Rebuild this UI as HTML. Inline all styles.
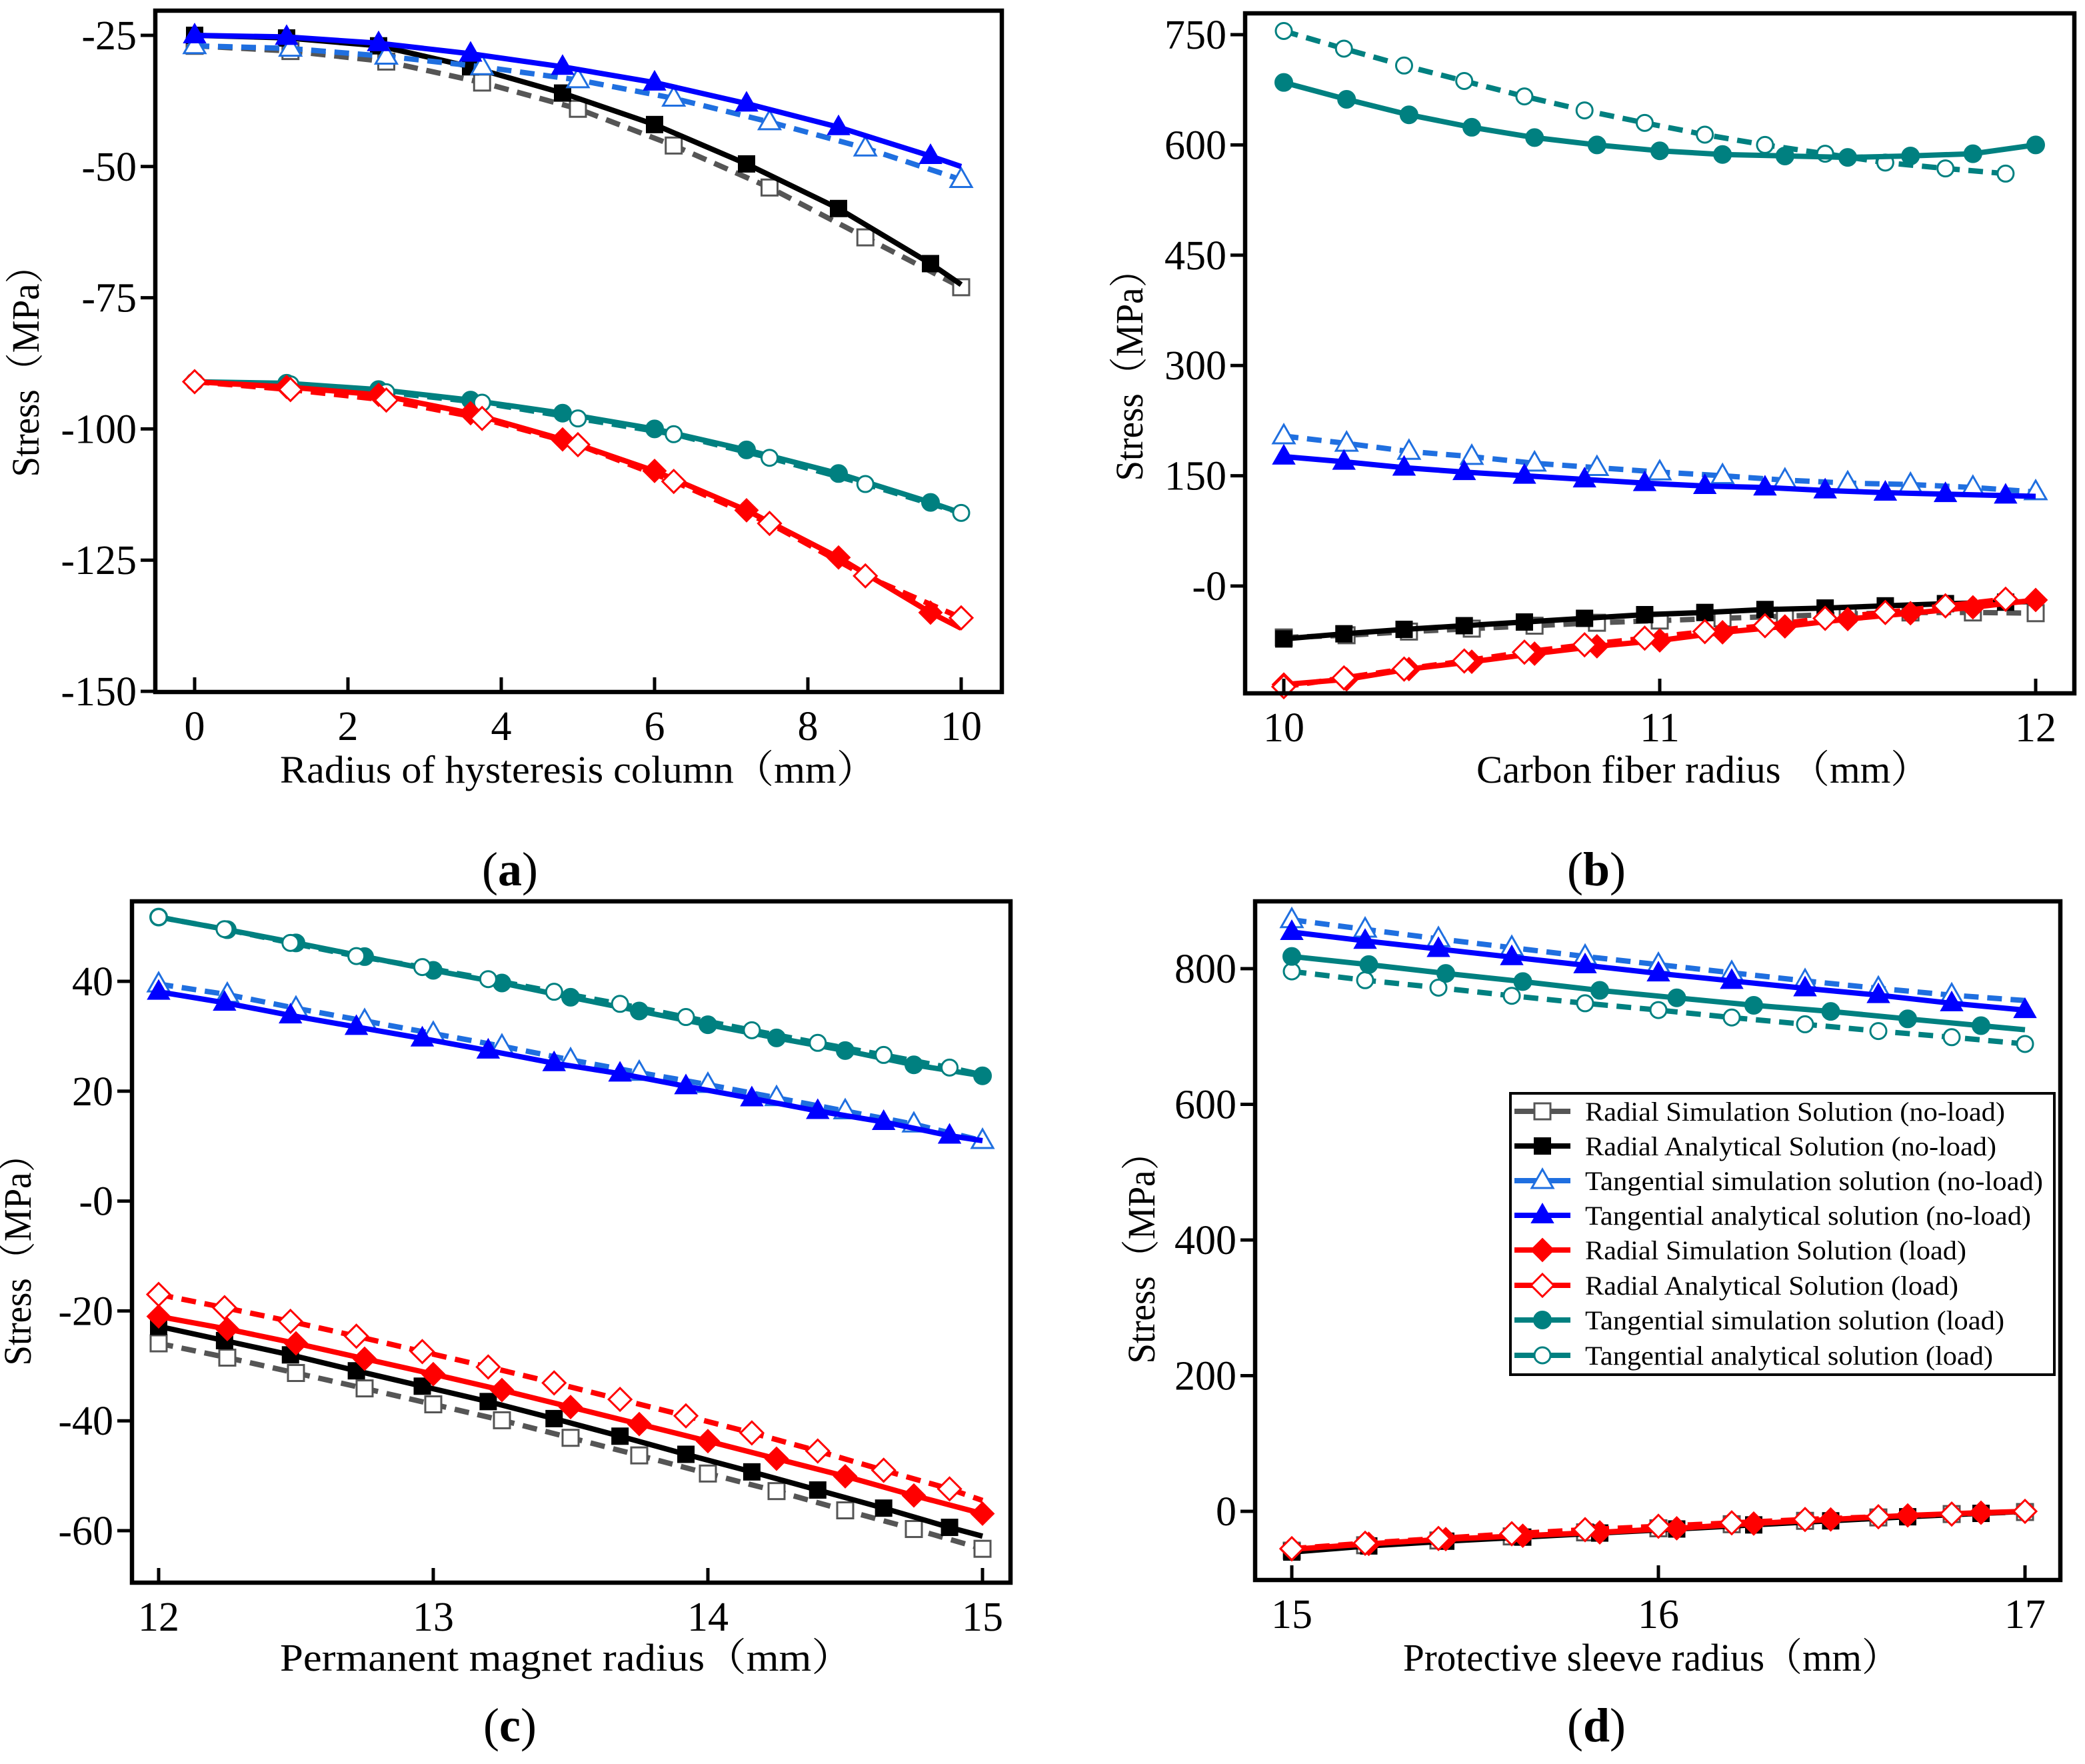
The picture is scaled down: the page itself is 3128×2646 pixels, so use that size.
<!DOCTYPE html>
<html><head><meta charset="utf-8"><style>
html,body{margin:0;padding:0;background:#fff}
svg{display:block}
text{font-family:"Liberation Serif","Noto Serif CJK SC",serif;fill:#000}
</style></head><body>
<svg id="fig" width="3128" height="2646" viewBox="0 0 3128 2646" xmlns="http://www.w3.org/2000/svg" font-family="'Liberation Serif','Noto Serif CJK SC',serif"></svg>
<script>
// ---------- Panel (a) data ----------
const aXf=[0,1.2,2.4,3.6,4.8,6,7.2,8.4,9.6,10];
const aXo=[0,1.25,2.5,3.75,5,6.25,7.5,8.75,10];
const aRadSimNL=[-27,-28,-30,-34,-39,-46,-54,-63.5,-73];
const aRadAnaNL=[-25,-25.5,-27,-31,-36,-42,-49.5,-58,-68.5,-72.5];
const aTanSimNL=[-27,-27.5,-29,-31,-33.5,-37,-41.5,-46.5,-52.5];
const aTanAnaNL=[-25,-25.3,-26.5,-28.5,-31,-34,-38,-42.5,-48,-50];
const aRadSimL=[-91,-92,-93.5,-97,-102,-108,-115.5,-124.5,-135,-138];
const aRadAnaL=[-91,-92.5,-94.5,-98,-103,-110,-118,-128,-136];
const aTanSimL=[-91,-91.3,-92.5,-94.5,-97,-100,-104,-108.5,-114,-116];
const aTanAnaL=[-91,-91.5,-93,-95,-98,-101,-105.5,-110.5,-116];
const aXTicks=[0,2,4,6,8,10];
const aYTicks=[-25,-50,-75,-100,-125,-150];
// ---------- Panel (b) data ----------
const bX6=[10,10.167,10.333,10.5,10.667,10.833,11,11.167,11.333,11.5,11.667,11.833,12];
const bX16=[10,10.16,10.32,10.48,10.64,10.8,10.96,11.12,11.28,11.44,11.6,11.76,11.92];
const bX16e=[10,10.16,10.32,10.48,10.64,10.8,10.96,11.12,11.28,11.44,11.6,11.76,11.92,12];
const bTanSimL=[685,662,641,624,610,600,592,587,585,583,585,588,600];
const bTanAnaL=[755,731,708,687,666,647,630,614,600,588,576,568,561];
const bTanSimNL=[204,194,183,176,167,161,155,150,144,140,138,134,128];
const bTanAnaNL=[176,169,161,155,150,145,140,136,134,130,127,125,123,122];
const bRadAnaNL=[-72,-65,-59,-54,-49,-44,-39,-36,-32,-30,-27,-24,-22,-21];
const bRadSimNL=[-70,-67,-62,-58,-54,-50,-47,-44,-41,-38,-36,-36,-37];
const bRadSimL=[-134,-127,-113,-103,-92,-82,-74,-63,-55,-45,-37,-29,-19];
const bRadAnaL=[-137,-125,-113,-102,-90,-80,-71,-62,-54,-44,-36,-27,-18];
const bXTicks=[10,11,12];
const bYTicks=[750,600,450,300,150,0];
const bYLabels=["750","600","450","300","150","-0"];
// ---------- Panel (c) data ----------
const cX24=[12,12.24,12.48,12.72,12.96,13.2,13.44,13.68,13.92,14.16,14.4,14.64,14.88];
const cX24e=[12,12.24,12.48,12.72,12.96,13.2,13.44,13.68,13.92,14.16,14.4,14.64,14.88,15];
const cX25=[12,12.25,12.5,12.75,13,13.25,13.5,13.75,14,14.25,14.5,14.75,15];
const cTanAnaL=[51.7,49.5,47,44.6,42.6,40.4,38.1,35.9,33.5,31.1,28.8,26.6,24.3,23];
const cTanSimL=[51.7,49.4,47,44.5,42,39.7,37.1,34.6,32.1,29.7,27.4,24.8,22.8];
const cTanSimNL=[39.5,37.6,35.1,32.8,30.5,28.2,25.7,23.4,21.2,18.8,16.4,14,11];
const cTanAnaNL=[38.1,36.1,33.8,31.7,29.6,27.4,25.1,23.2,20.9,18.7,16.4,14.4,11.9,11];
const cRadAnaL=[-17,-19.4,-21.9,-24.6,-27.4,-30.2,-33.1,-36.1,-39.1,-42.2,-45.5,-49,-52.4,-54.5];
const cRadSimL=[-21,-23.3,-25.9,-28.7,-31.5,-34.4,-37.5,-40.6,-43.7,-46.9,-50.1,-53.6,-56.9];
const cRadAnaNL=[-22.8,-25.4,-28,-30.9,-33.7,-36.5,-39.6,-42.8,-46.1,-49.3,-52.6,-55.9,-59.4,-61];
const cRadSimNL=[-25.9,-28.5,-31.3,-34.1,-37,-39.9,-43.1,-46.3,-49.6,-52.8,-56.3,-59.7,-63.3];
const cXTicks=[12,13,14,15];
const cYTicks=[40,20,0,-20,-40,-60];
const cYLabels=["40","20","-0","-20","-40","-60"];
// ---------- Panel (d) data ----------
const dX20=[15,15.2,15.4,15.6,15.8,16,16.2,16.4,16.6,16.8,17];
const dX21=[15,15.21,15.42,15.63,15.84,16.05,16.26,16.47,16.68,16.88,17];
const dTanSimNL=[872,858,844,831,818,806,794,782,771,761,753];
const dTanAnaNL=[854,841,829,817,805,793,782,771,761,749,739];
const dTanSimL=[818,806,793,781,768,757,746,737,726,716,710];
const dTanAnaL=[796,783,772,760,749,739,728,718,708,699,689];
const dRadAnaL=[-55,-47,-40,-33,-27,-22,-17,-12,-8,-4,0];
const dRadSimL=[-56,-48,-41,-36,-31,-25,-18,-12,-6,-2,0];
const dRadAnaNL=[-60,-51,-44,-38,-32,-26,-20,-14,-8,-3,0];
const dRadSimNL=[-58,-50,-43,-37,-31,-25,-19,-14,-9,-4,-1];
const dXTicks=[15,16,17];
const dYTicks=[800,600,400,200,0];
const legendLabels=["Radial Simulation Solution (no-load)","Radial Analytical Solution (no-load)","Tangential simulation solution (no-load)","Tangential analytical solution (no-load)","Radial Simulation Solution (load)","Radial Analytical Solution (load)","Tangential simulation solution (load)","Tangential analytical solution (load)"];

const NS="http://www.w3.org/2000/svg";
const FF="'Liberation Serif','Noto Serif CJK SC',serif";
const svg=document.getElementById('fig');
function mk(tag,attrs,parent){const e=document.createElementNS(NS,tag);for(const k in attrs)e.setAttribute(k,attrs[k]);if(tag==='text')e.setAttribute('font-family',FF);(parent||svg).appendChild(e);return e;}

const ST={
 radSimNL:{c:'#555555',dash:true,m:'sq',open:true},
 radAnaNL:{c:'#000000',dash:false,m:'sq',open:false},
 tanSimNL:{c:'#1f6fe0',dash:true,m:'tri',open:true},
 tanAnaNL:{c:'#0000ff',dash:false,m:'tri',open:false},
 radSimL:{c:'#ff0000',dash:false,m:'dia',open:false},
 radAnaL:{c:'#ff0000',dash:true,m:'dia',open:true},
 tanSimL:{c:'#008080',dash:false,m:'cir',open:false},
 tanAnaL:{c:'#008080',dash:true,m:'cir',open:true}
};
const legendKeys=['radSimNL','radAnaNL','tanSimNL','tanAnaNL','radSimL','radAnaL','tanSimL','tanAnaL'];

function marker(g,type,x,y,st){
  const fill=st.open?'#fff':st.c, sw=st.open?3:2;
  let e;
  if(type==='sq') e=mk('rect',{x:x-12,y:y-12,width:24,height:24,fill:fill,stroke:st.c,'stroke-width':sw},g);
  else if(type==='tri') e=mk('polygon',{points:`${x},${y-17} ${x-16},${y+11} ${x+16},${y+11}`,fill:fill,stroke:st.c,'stroke-width':sw},g);
  else if(type==='dia') e=mk('polygon',{points:`${x},${y-17} ${x+17},${y} ${x},${y+17} ${x-17},${y}`,fill:fill,stroke:st.c,'stroke-width':sw},g);
  else e=mk('circle',{cx:x,cy:y,r:st.open?12:13,fill:fill,stroke:st.c,'stroke-width':sw},g);
  
  
}

function panel(p){
  const g=mk('g',{});
  
  
  const sx=v=>p.x0px+(v-p.x0)*(p.x1px-p.x0px)/(p.x1-p.x0);
  const sy=v=>p.y0px+(v-p.y0)*(p.y1px-p.y0px)/(p.y1-p.y0);
  p.series.forEach(s=>{
    const st=ST[s.k];
    const sg=mk('g',{},g);
    
    
    const pts=s.ys.map((v,i)=>sx(s.xs[i]).toFixed(1)+','+sy(v).toFixed(1)).join(' ');
    const ln=mk('polyline',{points:pts,fill:'none',stroke:st.c,'stroke-width':8,'stroke-linejoin':'round','stroke-dasharray':st.dash?'22 13':'none'},sg);
    
    
    const n=s.n!==undefined?s.n:s.ys.length;
    for(let i=0;i<n;i++) marker(sg,st.m,sx(s.xs[i]),sy(s.ys[i]),st);
  });
  const fr=mk('rect',{x:p.L,y:p.T,width:p.R-p.L,height:p.B-p.T,fill:'none',stroke:'#000','stroke-width':6.5},g);
  
  
  p.xt.forEach(v=>{
    const x=sx(v);
    const t=mk('line',{x1:x,y1:p.B,x2:x,y2:p.B-22,stroke:'#000','stroke-width':5},g);
    
    
    const tl=mk('text',{x:x,y:p.B+72,'text-anchor':'middle','font-size':62},g);
    tl.textContent=String(v);
    
    
  });
  p.yt.forEach((v,i)=>{
    const y=sy(v);
    const t=mk('line',{x1:p.L,y1:y,x2:p.L-22,y2:y,stroke:'#000','stroke-width':5},g);
    
    
    const tl=mk('text',{x:p.L-28,y:y+21,'text-anchor':'end','font-size':62},g);
    tl.textContent=p.yl?p.yl[i]:String(v);
    
    
  });
  const xt=mk('text',{x:p.xtx,y:p.xty,'font-size':58,textLength:p.xtw,lengthAdjust:'spacingAndGlyphs'},g);
  xt.textContent=p.xtitle;
  
  
  const yt=mk('text',{x:0,y:0,'font-size':58,'text-anchor':'middle',textLength:345,lengthAdjust:'spacingAndGlyphs',transform:`translate(${p.ytx},${p.yty}) rotate(-90)`},g);
  yt.textContent='Stress（MPa）';
  
  
  const lb=mk('text',{x:p.lbx,y:p.lby,'font-size':72,'text-anchor':'middle'},g);
  lb.innerHTML='(<tspan font-weight="bold">'+p.id+'</tspan>)';
  
  
}

panel({id:'a',L:233,R:1503,T:16,B:1038,x0:0,x1:10,x0px:292,x1px:1442,y0:-25,y1:-150,y0px:53,y1px:1037,
  xt:aXTicks,yt:aYTicks,xtitle:'Radius of hysteresis column（mm）',xtx:420,xty:1174,xtw:895,ytx:58,yty:543,lbx:765,lby:1328,
  series:[{k:'radSimNL',xs:aXo,ys:aRadSimNL},{k:'radAnaNL',xs:aXf,ys:aRadAnaNL,n:9},{k:'tanSimNL',xs:aXo,ys:aTanSimNL},{k:'tanAnaNL',xs:aXf,ys:aTanAnaNL,n:9},
   {k:'tanSimL',xs:aXf,ys:aTanSimL,n:9},{k:'tanAnaL',xs:aXo,ys:aTanAnaL},{k:'radSimL',xs:aXf,ys:aRadSimL,n:9},{k:'radAnaL',xs:aXo,ys:aRadAnaL}]});
panel({id:'b',L:1868,R:3112,T:20,B:1040,x0:10,x1:12,x0px:1926,x1px:3054,y0:750,y1:0,y0px:52,y1px:879,
  xt:bXTicks,yt:bYTicks,yl:bYLabels,xtitle:'Carbon fiber radius （mm）',xtx:2215,xty:1174,xtw:680,ytx:1714,yty:549,lbx:2395,lby:1328,
  series:[{k:'radSimNL',xs:bX6,ys:bRadSimNL},{k:'radAnaNL',xs:bX16e,ys:bRadAnaNL,n:13},{k:'tanSimNL',xs:bX6,ys:bTanSimNL},{k:'tanAnaNL',xs:bX16e,ys:bTanAnaNL,n:13},
   {k:'tanAnaL',xs:bX16,ys:bTanAnaL},{k:'tanSimL',xs:bX6,ys:bTanSimL},{k:'radSimL',xs:bX6,ys:bRadSimL},{k:'radAnaL',xs:bX16,ys:bRadAnaL}]});
panel({id:'c',L:198,R:1516,T:1352,B:2374,x0:12,x1:15,x0px:238,x1px:1474,y0:40,y1:-60,y0px:1472,y1px:2296,
  xt:cXTicks,yt:cYTicks,yl:cYLabels,xtitle:'Permanent magnet radius（mm）',xtx:420,xty:2506,xtw:860,ytx:46,yty:1876,lbx:765,lby:2612,
  series:[{k:'radSimNL',xs:cX25,ys:cRadSimNL},{k:'radAnaNL',xs:cX24e,ys:cRadAnaNL,n:13},{k:'radAnaL',xs:cX24e,ys:cRadAnaL,n:13},{k:'radSimL',xs:cX25,ys:cRadSimL},
   {k:'tanSimNL',xs:cX25,ys:cTanSimNL},{k:'tanAnaNL',xs:cX24e,ys:cTanAnaNL,n:13},{k:'tanSimL',xs:cX25,ys:cTanSimL},{k:'tanAnaL',xs:cX24e,ys:cTanAnaL,n:13}]});
panel({id:'d',L:1883,R:3091,T:1352,B:2370,x0:15,x1:17,x0px:1938,x1px:3038,y0:800,y1:0,y0px:1453,y1px:2267,
  xt:dXTicks,yt:dYTicks,xtitle:'Protective sleeve radius（mm）',xtx:2105,xty:2506,xtw:745,ytx:1732,yty:1873,lbx:2395,lby:2612,
  series:[{k:'radSimNL',xs:dX20,ys:dRadSimNL},{k:'radAnaNL',xs:dX21,ys:dRadAnaNL,n:10},{k:'radSimL',xs:dX21,ys:dRadSimL,n:10},{k:'radAnaL',xs:dX20,ys:dRadAnaL},
   {k:'tanSimNL',xs:dX20,ys:dTanSimNL,n:10},{k:'tanAnaNL',xs:dX20,ys:dTanAnaNL},{k:'tanAnaL',xs:dX20,ys:dTanAnaL},{k:'tanSimL',xs:dX21,ys:dTanSimL,n:10}]});

const lg=mk('g',{});


const lbox=mk('rect',{x:2266,y:1640,width:816,height:422,fill:'#fff',stroke:'#000','stroke-width':4},lg);


const rowY=[1667,1719,1771,1823,1875,1928,1980,2033];
const rowW=[630,617,687,669,572,560,629,612];
legendKeys.forEach((k,i)=>{
  const st=ST[k];
  const eg=mk('g',{},lg);
  
  
  mk('line',{x1:2272,y1:rowY[i],x2:2356,y2:rowY[i],stroke:st.c,'stroke-width':8},eg);
  marker(eg,st.m,2314,rowY[i],st);
  const t=mk('text',{x:2378,y:rowY[i]+14,'font-size':40,textLength:rowW[i],lengthAdjust:'spacingAndGlyphs'},eg);
  t.textContent=legendLabels[i];
  
  
});
</script>
</body></html>
